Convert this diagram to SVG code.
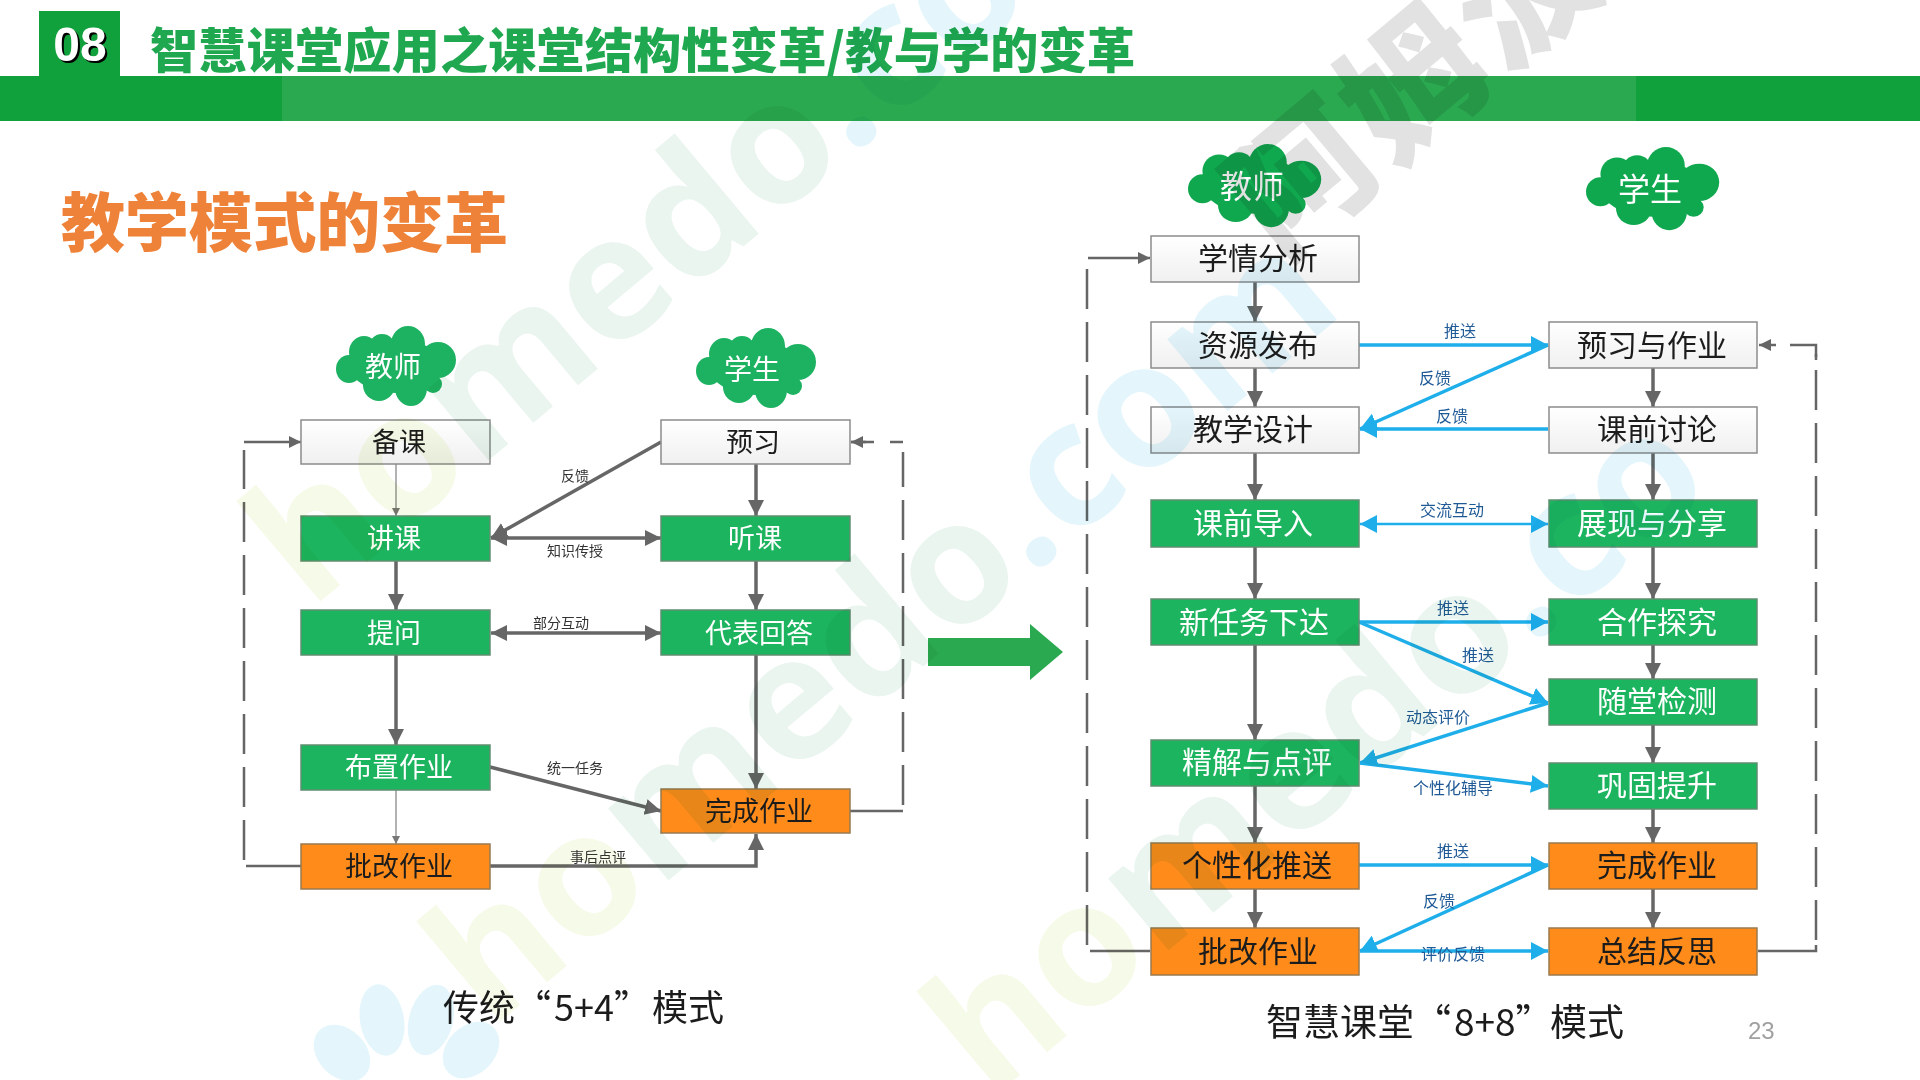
<svg xmlns="http://www.w3.org/2000/svg" xmlns:xlink="http://www.w3.org/1999/xlink" width="1920" height="1080" viewBox="0 0 1920 1080">
<style>
text{font-family:"Noto Sans CJK SC","Liberation Sans",sans-serif}
.box{stroke-width:1.5}
.w{fill:url(#wg);stroke:#8c8c8c}
.g{fill:#1cb45f;stroke:#5f8f70}
.o{fill:#ff8c1a;stroke:#9a7a50}
.tl{font-size:27px;text-anchor:middle;dominant-baseline:central;transform:translateY(-2px)}
.tr{font-size:30px;text-anchor:middle;dominant-baseline:central;transform:translateY(-2px)}
.tw{fill:#fff}.td{fill:#1c1c1c}
.lab{font-size:14px;text-anchor:middle;dominant-baseline:central;fill:#333;transform:translateY(-1px)}
.labb{font-size:16px;text-anchor:middle;dominant-baseline:central;fill:#1f5a96;transform:translateY(-2px)}
.cl{fill:#fff;text-anchor:middle;dominant-baseline:central;transform:translateY(-2px)}
.cap{font-size:36px;fill:#1c1c1c}
.gl{fill:none;stroke:#666;stroke-width:3.5}
.thin{fill:none;stroke:#999;stroke-width:1.5}
.dash{fill:none;stroke:#666;stroke-width:2.5;stroke-dasharray:40 13}
.sol{fill:none;stroke:#666;stroke-width:2.5}
.bl{fill:none;stroke:#1eaeea;stroke-width:3.5}
.wm{mix-blend-mode:multiply}
.wt{font-family:"Open Sans","Noto Sans",sans-serif;font-size:172px;font-weight:700}
.a{fill:#f6fae8}.b{fill:#e9f5ee}.c{fill:#e4f6fc}
</style>
<defs>
<linearGradient id="wg" x1="0" y1="0" x2="0" y2="1"><stop offset="0" stop-color="#fff"/><stop offset="1" stop-color="#f0f0f0"/></linearGradient>
<marker id="ag" markerUnits="userSpaceOnUse" markerWidth="17" markerHeight="17" refX="16" refY="8" orient="auto-start-reverse"><path d="M0 0L16 8L0 16Z" fill="#666"/></marker>
<marker id="as" markerUnits="userSpaceOnUse" markerWidth="9" markerHeight="9" refX="8" refY="4" orient="auto"><path d="M0 0L8 4L0 8Z" fill="#777"/></marker>
<marker id="am" markerUnits="userSpaceOnUse" markerWidth="13" markerHeight="13" refX="12" refY="6" orient="auto"><path d="M0 0L12 6L0 12Z" fill="#666"/></marker>
<marker id="ab" markerUnits="userSpaceOnUse" markerWidth="18" markerHeight="19" refX="17" refY="9" orient="auto-start-reverse"><path d="M0 0L17 9L0 18Z" fill="#1eaeea"/></marker>
<g id="cloud">
<ellipse cx="13" cy="43" rx="13" ry="14"/><ellipse cx="28" cy="26" rx="15" ry="16"/><ellipse cx="46" cy="23" rx="14" ry="15"/><ellipse cx="72" cy="18" rx="17" ry="18"/><ellipse cx="102" cy="34" rx="18" ry="18"/><ellipse cx="97" cy="58" rx="9" ry="9"/><ellipse cx="75" cy="62" rx="16" ry="18"/><ellipse cx="43" cy="59" rx="16" ry="16"/><ellipse cx="60" cy="40" rx="46" ry="27"/>
</g>
</defs>

<g id="header">
<rect x="0" y="76" width="1920" height="45" fill="#10a03c"/>
<rect x="282" y="76" width="1354" height="45" fill="#2aa950"/>
<rect x="39" y="11" width="81" height="65" fill="#10a03c"/>
<text x="80" y="61" text-anchor="middle" style="font-family:'Liberation Sans',sans-serif;font-size:48px;font-weight:700;fill:#fff;filter:drop-shadow(2px 2px 0 #000)">08</text>
<text x="150" y="68" textLength="985" style="font-size:48px;font-weight:900;fill:#1fa84f">智慧课堂应用之课堂结构性变革/教与学的变革</text>
<text x="61" y="246" textLength="447" style="font-size:64px;font-weight:900;fill:#ee8238">教学模式的变革</text>
</g>

<g id="connectors">
<path class="sol" d="M301 866H246"/><path class="dash" d="M244 860V450"/><path class="sol" d="M244 442H301" marker-end="url(#am)"/>
<path class="sol" d="M850 811H903"/><path class="dash" d="M903 805V452"/><path class="sol" d="M903 442H890M874 442H851"/><path class="sol" d="M866 442H851" marker-end="url(#am)"/>
<path class="thin" d="M396 464V516" marker-end="url(#as)"/>
<path class="gl" d="M396 561V610" marker-end="url(#ag)"/>
<path class="gl" d="M396 655V745" marker-end="url(#ag)"/>
<path class="thin" d="M396 790V844" marker-end="url(#as)"/>
<path class="gl" d="M756 464V516" marker-end="url(#ag)"/>
<path class="gl" d="M756 561V610" marker-end="url(#ag)"/>
<path class="gl" d="M756 655V789" marker-end="url(#ag)"/>
<path class="gl" d="M661 442L491 538" marker-end="url(#ag)"/>
<path class="gl" d="M491 538H661" marker-start="url(#ag)" marker-end="url(#ag)"/>
<path class="gl" d="M491 633H661" marker-start="url(#ag)" marker-end="url(#ag)"/>
<path class="gl" d="M490 767L661 811" marker-end="url(#ag)"/>
<path class="gl" d="M490 866H756V834" marker-end="url(#ag)"/>

<path class="sol" d="M1150 951H1090"/><path class="dash" d="M1087 945V268"/><path class="sol" d="M1088 258H1150" marker-end="url(#am)"/>
<path class="sol" d="M1758 951H1816V945"/><path class="dash" d="M1816 940V354"/><path class="sol" d="M1816 360V345H1790"/><path class="sol" d="M1776 345H1759" marker-end="url(#am)"/>
<path class="gl" d="M1255 282V322" marker-end="url(#ag)"/>
<path class="gl" d="M1255 368V407" marker-end="url(#ag)"/>
<path class="gl" d="M1255 453V500" marker-end="url(#ag)"/>
<path class="gl" d="M1255 547V599" marker-end="url(#ag)"/>
<path class="gl" d="M1255 645V740" marker-end="url(#ag)"/>
<path class="gl" d="M1255 786V843" marker-end="url(#ag)"/>
<path class="gl" d="M1255 889V928" marker-end="url(#ag)"/>
<path class="gl" d="M1653 368V407" marker-end="url(#ag)"/>
<path class="gl" d="M1653 453V500" marker-end="url(#ag)"/>
<path class="gl" d="M1653 547V599" marker-end="url(#ag)"/>
<path class="gl" d="M1653 645V679" marker-end="url(#ag)"/>
<path class="gl" d="M1653 725V763" marker-end="url(#ag)"/>
<path class="gl" d="M1653 809V843" marker-end="url(#ag)"/>
<path class="gl" d="M1653 889V928" marker-end="url(#ag)"/>
<path class="bl" d="M1359 345H1548" marker-end="url(#ab)"/>
<path class="bl" d="M1548 345L1360 429" marker-end="url(#ab)"/>
<path class="bl" d="M1548 429H1360" marker-end="url(#ab)"/>
<path class="bl" style="stroke-width:2.5" d="M1360 524H1548" marker-start="url(#ab)" marker-end="url(#ab)"/>
<path class="bl" d="M1359 622H1548" marker-end="url(#ab)"/>
<path class="bl" d="M1359 622L1548 703" marker-end="url(#ab)"/>
<path class="bl" d="M1548 703L1360 763" marker-end="url(#ab)"/>
<path class="bl" d="M1360 763L1548 786" marker-end="url(#ab)"/>
<path class="bl" d="M1359 865H1548" marker-end="url(#ab)"/>
<path class="bl" d="M1548 865L1360 951" marker-end="url(#ab)"/>
<path class="bl" d="M1360 951H1548" marker-end="url(#ab)"/>
<polygon id="big-arrow" points="928,638 1030,638 1030,624 1063,652 1030,680 1030,666 928,666" fill="#2aa950"/>
</g>

<g id="labels">
<text class="lab" x="575" y="476">反馈</text>
<text class="lab" x="575" y="551">知识传授</text>
<text class="lab" x="561" y="623">部分互动</text>
<text class="lab" x="575" y="768">统一任务</text>
<text class="lab" x="598" y="857">事后点评</text>
<text class="labb" x="1460" y="332">推送</text>
<text class="labb" x="1435" y="379">反馈</text>
<text class="labb" x="1452" y="417">反馈</text>
<text class="labb" x="1452" y="511">交流互动</text>
<text class="labb" x="1453" y="609">推送</text>
<text class="labb" x="1478" y="656">推送</text>
<text class="labb" x="1438" y="718">动态评价</text>
<text class="labb" x="1453" y="789">个性化辅导</text>
<text class="labb" x="1453" y="852">推送</text>
<text class="labb" x="1439" y="902">反馈</text>
<text class="labb" x="1453" y="955">评价反馈</text>
</g>

<g id="n-l-teacher"><use href="#cloud" transform="translate(336 326)" fill="#1db261"/><text class="cl" x="393" y="367" font-size="28">教师</text></g>
<g id="n-l-student"><use href="#cloud" transform="translate(696 328)" fill="#1db261"/><text class="cl" x="752" y="370" font-size="28">学生</text></g>
<g id="n-r-teacher"><use href="#cloud" transform="translate(1188 144) scale(1.11 1.04)" fill="#10a84f"/><text class="cl" x="1252" y="186" font-size="32">教师</text></g>
<g id="n-r-student"><use href="#cloud" transform="translate(1586 147) scale(1.11 1.04)" fill="#10a84f"/><text class="cl" x="1650" y="189" font-size="32">学生</text></g>

<g id="n1"><rect class="box w" x="301" y="420" width="189" height="44"/><text class="tl td" x="399" y="442">备课</text></g>
<g id="n2"><rect class="box g" x="301" y="516" width="189" height="45"/><text class="tl tw" x="394" y="538">讲课</text></g>
<g id="n3"><rect class="box g" x="301" y="610" width="189" height="45"/><text class="tl tw" x="394" y="633">提问</text></g>
<g id="n4"><rect class="box g" x="301" y="745" width="189" height="45"/><text class="tl tw" x="399" y="767">布置作业</text></g>
<g id="n5"><rect class="box o" x="301" y="844" width="189" height="45"/><text class="tl td" x="399" y="866">批改作业</text></g>
<g id="n6"><rect class="box w" x="661" y="420" width="189" height="44"/><text class="tl td" x="753" y="442">预习</text></g>
<g id="n7"><rect class="box g" x="661" y="516" width="189" height="45"/><text class="tl tw" x="755" y="538">听课</text></g>
<g id="n8"><rect class="box g" x="661" y="610" width="189" height="45"/><text class="tl tw" x="759" y="633">代表回答</text></g>
<g id="n9"><rect class="box o" x="661" y="789" width="189" height="44"/><text class="tl td" x="759" y="811">完成作业</text></g>

<g id="r1"><rect class="box w" x="1151" y="236" width="208" height="46"/><text class="tr td" x="1258" y="258">学情分析</text></g>
<g id="r2"><rect class="box w" x="1151" y="322" width="208" height="46"/><text class="tr td" x="1258" y="345">资源发布</text></g>
<g id="r3"><rect class="box w" x="1151" y="407" width="208" height="46"/><text class="tr td" x="1253" y="429">教学设计</text></g>
<g id="r4"><rect class="box g" x="1151" y="500" width="208" height="47"/><text class="tr tw" x="1253" y="523">课前导入</text></g>
<g id="r5"><rect class="box g" x="1151" y="599" width="208" height="46"/><text class="tr tw" x="1254" y="622">新任务下达</text></g>
<g id="r6"><rect class="box g" x="1151" y="740" width="208" height="46"/><text class="tr tw" x="1257" y="762">精解与点评</text></g>
<g id="r7"><rect class="box o" x="1151" y="843" width="208" height="46"/><text class="tr td" x="1257" y="865">个性化推送</text></g>
<g id="r8"><rect class="box o" x="1151" y="928" width="208" height="47"/><text class="tr td" x="1258" y="951">批改作业</text></g>
<g id="s1"><rect class="box w" x="1549" y="322" width="208" height="46"/><text class="tr td" x="1652" y="345">预习与作业</text></g>
<g id="s2"><rect class="box w" x="1549" y="407" width="208" height="46"/><text class="tr td" x="1657" y="429">课前讨论</text></g>
<g id="s3"><rect class="box g" x="1549" y="500" width="208" height="47"/><text class="tr tw" x="1652" y="523">展现与分享</text></g>
<g id="s4"><rect class="box g" x="1549" y="599" width="208" height="46"/><text class="tr tw" x="1657" y="622">合作探究</text></g>
<g id="s5"><rect class="box g" x="1549" y="679" width="208" height="46"/><text class="tr tw" x="1657" y="701">随堂检测</text></g>
<g id="s6"><rect class="box g" x="1549" y="763" width="208" height="46"/><text class="tr tw" x="1657" y="785">巩固提升</text></g>
<g id="s7"><rect class="box o" x="1549" y="843" width="208" height="46"/><text class="tr td" x="1657" y="865">完成作业</text></g>
<g id="s8"><rect class="box o" x="1549" y="928" width="208" height="47"/><text class="tr td" x="1657" y="951">总结反思</text></g>

<g id="captions">
<text class="cap" y="1021"><tspan x="443">传统“</tspan><tspan x="554">5+4”</tspan><tspan x="652">模式</tspan></text>
<text class="cap" y="1036" style="font-size:37px"><tspan x="1266">智慧课堂“</tspan><tspan x="1454">8+8”</tspan><tspan x="1550">模式</tspan></text>
<text x="1748" y="1039" style="font-family:'Liberation Sans',sans-serif;font-size:24px;fill:#a0a0a0">23</text>
</g>

<g id="watermark" class="wm">
<ellipse cx="382" cy="1020" rx="22" ry="36" fill="#e4f6fc" transform="rotate(-10 382 1020)"/>
<ellipse cx="431" cy="1020" rx="22" ry="36" fill="#e4f6fc" transform="rotate(15 431 1020)"/>
<ellipse cx="342" cy="1053" rx="24" ry="32" fill="#e4f6fc" transform="rotate(-45 342 1053)"/>
<ellipse cx="471" cy="1050" rx="24" ry="32" fill="#e4f6fc" transform="rotate(45 471 1050)"/>
<text class="wt" transform="translate(310 610) rotate(-40)"><tspan class="a">ho</tspan><tspan class="b">medo</tspan><tspan class="c">.co</tspan></text>
<text class="wt" transform="translate(490 1030) rotate(-40)"><tspan class="a">ho</tspan><tspan class="b">medo</tspan><tspan class="c">.com</tspan></text>
<text class="wt" transform="translate(990 1100) rotate(-40)"><tspan class="a">ho</tspan><tspan class="b">medo</tspan><tspan class="c">.co</tspan></text>
<text transform="translate(1280 262) rotate(-40)" style="font-size:140px;font-weight:900;fill:#e2e2e2" letter-spacing="6">阿姆波</text>
</g>
</svg>
